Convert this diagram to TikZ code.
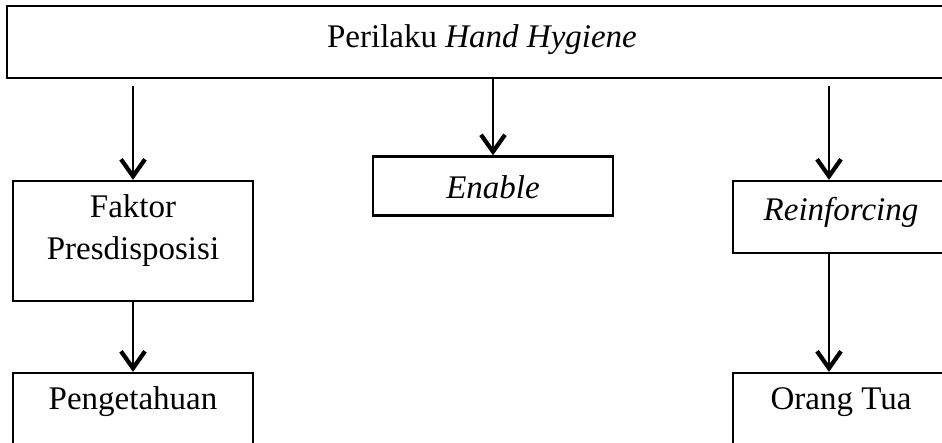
\documentclass[tikz,border=0pt]{standalone}
\usepackage{fontspec}
\setmainfont{Liberation Serif}
\usetikzlibrary{arrows.meta}
\begin{document}
\begin{tikzpicture}[x=1pt,y=-1pt,
  box/.style={draw,line width=2.2pt,rectangle,inner sep=0pt},
  txt/.style={inner sep=0pt,font=\fontsize{33}{42}\selectfont,align=center},
  arr/.style={line width=2.2pt,-{Straight Barb[length=17pt,width=24pt,line width=4.2pt]}}]
\useasboundingbox (0,0) rectangle (942,443);
\clip (0,0) rectangle (942,443);
\fill[white] (0,0) rectangle (942,443);
% boxes
\node[box,minimum width=950pt,minimum height=72pt] (top) at (482,42) {};
\node[txt] (toptxt) at (482,40) {Perilaku \textit{Hand Hygiene}};
\node[box,minimum width=240pt,minimum height=120pt] (fak) at (133,241) {};
\node[txt] (faktxt) at (133,231) {Faktor\\Presdisposisi};
\node[box,minimum width=240pt,minimum height=59pt] (ena) at (493,186) {};
\node[txt] (enatxt) at (493,187) {\textit{Enable}};
\node[box,minimum width=240pt,minimum height=72pt] (rei) at (853,217) {};
\node[txt] (reitxt) at (841,212) {\textit{Reinforcing}};
\node[box,minimum width=240pt,minimum height=120pt] (pen) at (133,433) {};
\node[txt] (pentxt) at (133,402) {Pengetahuan};
\node[box,minimum width=240pt,minimum height=120pt] (ora) at (853,433) {};
\node[txt] (oratxt) at (841,402) {Orang Tua};
% arrow start points
\coordinate (s1) at (133,86);
\coordinate (s3) at (829,86);
% arrows
\draw[arr] (s1) -- (fak.north -| s1);
\draw[arr] (top.south -| ena.north) -- (ena.north);
\draw[arr] (s3) -- (rei.north -| s3);
\draw[arr] (fak.south) -- (pen.north);
\draw[arr] (rei.south -| s3) -- (ora.north -| s3);
\end{tikzpicture}
\end{document}
